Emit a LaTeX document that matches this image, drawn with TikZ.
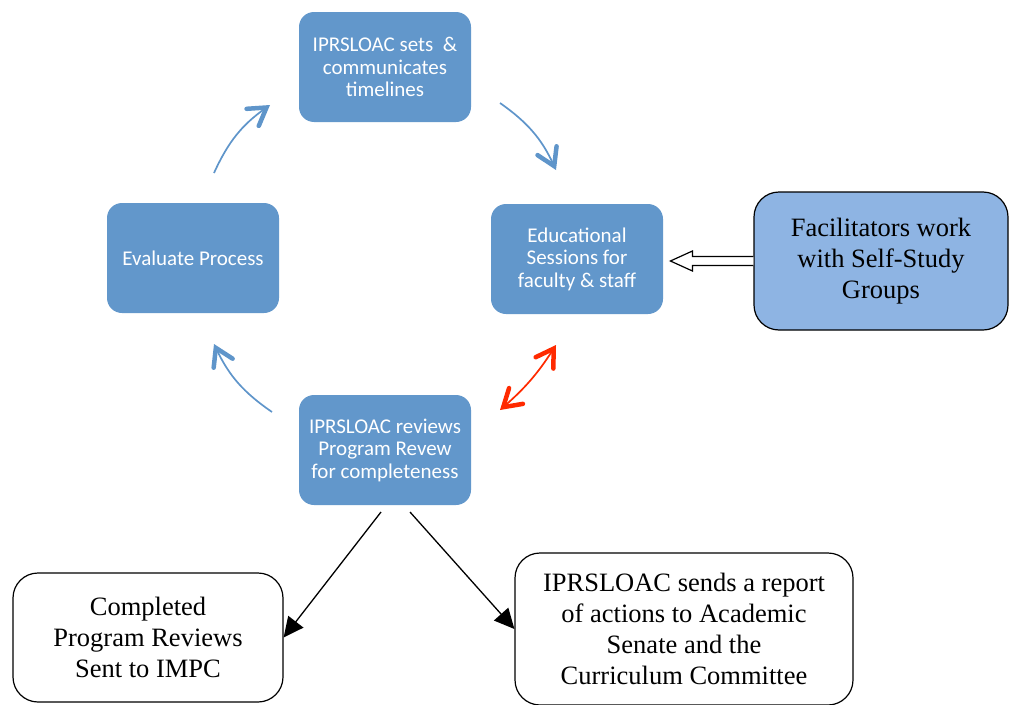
\documentclass[tikz,border=0pt]{standalone}
\usepackage{fontspec}
\setmainfont{Liberation Serif}
\newfontfamily\calfont{Carlito}
\usetikzlibrary{arrows.meta,calc}
\definecolor{boxblue}{HTML}{6297CB}
\definecolor{arrblue}{HTML}{5F95CA}
\definecolor{facblue}{HTML}{8EB4E3}
\definecolor{arrred}{HTML}{FF2A00}
\tikzset{barbtip/.tip={Straight Barb[length=17pt,width=21pt,line width=4.5pt,line cap=round]}}
\begin{document}
\begin{tikzpicture}[x=1pt,y=-1pt,
  bluebox/.style={fill=boxblue, draw=none, rounded corners=15pt, minimum width=172pt, minimum height=110pt,
    text=white, align=center, font=\calfont\fontsize{21}{22.5}\selectfont, inner sep=0pt},
  whitebox/.style={draw=black, line width=1.2pt, fill=white, rounded corners=25pt, align=center,
    font=\fontsize{26.5}{31}\selectfont, inner sep=0pt},
  cycarrow/.style={draw=arrblue, line width=1.7pt, -{barbtip}},
  redarrow/.style={draw=arrred, line width=1.7pt, {barbtip}-{barbtip}},
  blkarrow/.style={draw=black, line width=1.3pt, -{Triangle[length=20pt,width=19pt]}}]
\useasboundingbox (0,0) rectangle (1009,704);
\node[bluebox] (top) at (385,67) {IPRSLOAC sets\ \ \&\\communicates\\timelines};
\node[bluebox] (edu) at (577,259) {Educational\\Sessions for\\faculty \& staff};
\node[bluebox] (eval) at (193,258) {Evaluate Process};
\node[bluebox] (rev) at (385,450) {IPRSLOAC reviews\\Program Revew\\for completeness};
\node[whitebox, fill=facblue, minimum width=254pt, minimum height=138pt] (fac) at (881,261)
  {Facilitators work\\with Self-Study\\Groups};
\node[whitebox, minimum width=270pt, minimum height=129pt] (comp) at (148,637.5)
  {Completed\\Program Reviews\\Sent to IMPC};
\node[whitebox, minimum width=338pt, minimum height=152pt] (send) at (684,629)
  {IPRSLOAC sends a report\\of actions to Academic\\Senate and the\\Curriculum Committee};
% cycle arrows
\coordinate (a1s) at (214,173); \coordinate (a1e) at (270,105);
\coordinate (a2s) at (500,103); \coordinate (a2e) at (556,170);
\coordinate (a3s) at (272,412); \coordinate (a3e) at (214,344);
\coordinate (r1) at (500,410); \coordinate (r2) at (556,345);
\draw[cycarrow] (a1s) to[bend left=15] (a1e);
\draw[cycarrow] (a2s) to[bend left=15] (a2e);
\draw[cycarrow] (a3s) to[bend left=15] (a3e);
\draw[redarrow] (r1) to[bend right=8] (r2);
% hollow block arrow
\draw[line width=1.2pt, fill=white, line join=miter]
  ($(fac.west)+(0,-4.5)$) -- ++(-61,0) -- ++(0,-5.5) -- ($(fac.west)+(-83,0)$)
  -- ($(fac.west)+(-61,10)$) -- ++(0,-5.5) -- ($(fac.west)+(0,4.5)$);
% black arrows
\coordinate (b1) at (381,512); \coordinate (b2) at (410,512);
\draw[blkarrow] (b1) -- (comp.east);
\draw[blkarrow] (b2) -- (send.west);
\end{tikzpicture}
\end{document}
